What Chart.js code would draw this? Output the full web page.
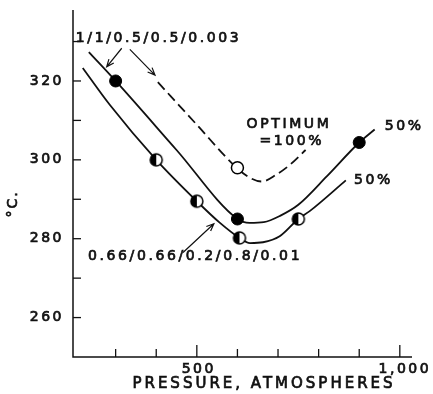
<!DOCTYPE html>
<html>
<head>
<meta charset="utf-8">
<script src="https://cdn.jsdelivr.net/npm/chart.js@4.4.0/dist/chart.umd.min.js"></script>
<style>
  html, body { margin: 0; padding: 0; background: #fff; }
  #wrap { width: 433px; height: 394px; }
</style>
</head>
<body>
<div id="wrap"><canvas id="chart" width="433" height="394"></canvas></div>
<script>
// 1/1/0.5/0.5/0.003 feed, 50% of optimum
const upperP = [234, 300, 450, 600, 630, 665, 705, 750, 820, 900, 938];
const upperT = [327.3, 320, 302.5, 285, 284, 284.2, 285.8, 288.6, 295.8, 304.4, 307.7];
// same feed at optimum (dashed)
const optP = [404, 500, 598, 630, 660, 695, 730, 768];
const optT = [319.7, 308.9, 298, 295.5, 294.5, 296.2, 298.8, 302.5];
// 0.66/0.66/0.2/0.8/0.01 feed, 50%
const lowerP = [219, 286, 400, 500, 557, 605, 631, 663, 704, 750, 778, 867];
const lowerT = [323.3, 313.9, 300, 289.5, 284, 280.2, 278.9, 279.1, 280.6, 285, 287, 294.8];

// measured runs
const solidP = [300, 600, 900];
const solidT = [320, 285, 304.4];
const openP = [600];
const openT = [298];
const halfP = [400, 500, 605, 750];
const halfT = [300, 289.5, 280.2, 285];

const xTicks = [300, 400, 500, 600, 700, 800, 900, 1000];
const xLabels = { 500: '500', 1000: '1,000' };
const yTicks = [260, 270, 280, 290, 300, 310, 320, 330];
const yLabels = { 260: '260', 280: '280', 300: '300', 320: '320' };

const pts = (xs, ys) => xs.map((x, i) => ({ x, y: ys[i] }));

function halfDot(r) {
    const c = document.createElement('canvas');
    const s = 2 * r + 4;
    c.width = c.height = s;
    const g = c.getContext('2d');
    const m = s / 2;
    g.fillStyle = '#fff';
    g.beginPath(); g.arc(m, m, r, 0, Math.PI * 2); g.fill();
    g.fillStyle = '#000';
    g.beginPath(); g.arc(m, m, r, Math.PI / 2, Math.PI * 1.5); g.closePath(); g.fill();
    g.lineWidth = 1.5; g.strokeStyle = '#000';
    g.beginPath(); g.arc(m, m, r, 0, Math.PI * 2); g.stroke();
    return c;
}

const FONT = '"DejaVu Sans", sans-serif';

function text(ctx, str, x, y, align, size, ls) {
    ctx.font = `${size}px ${FONT}`;
    ctx.letterSpacing = ls + 'px';
    ctx.textAlign = align;
    ctx.textBaseline = 'middle';
    ctx.fillStyle = '#111';
    ctx.strokeStyle = '#111';
    ctx.lineWidth = 0.7;
    ctx.fillText(str, x, y);
    ctx.strokeText(str, x, y);
}

function arrow(ctx, x1, y1, x2, y2) {
    const a = Math.atan2(y2 - y1, x2 - x1);
    const h = 8;
    ctx.beginPath();
    ctx.moveTo(x1, y1);
    ctx.lineTo(x2, y2);
    ctx.moveTo(x2 - h * Math.cos(a - 0.4), y2 - h * Math.sin(a - 0.4));
    ctx.lineTo(x2, y2);
    ctx.lineTo(x2 - h * Math.cos(a + 0.4), y2 - h * Math.sin(a + 0.4));
    ctx.stroke();
}

// notes and arrows, anchored in pressure / temperature units
const notes = [
    { t: '1/1/0.5/0.5/0.003', p: 202, c: 330.9, align: 'left' },
    { t: 'OPTIMUM', p: 727, c: 308.9, align: 'center' },
    { t: '=100%', p: 734, c: 304.8, align: 'center' },
    { t: '50%', p: 963, c: 308.4, align: 'left' },
    { t: '50%', p: 887, c: 294.9, align: 'left' },
    { t: '0.66/0.66/0.2/0.8/0.01', p: 232, c: 275.4, align: 'left' }
];
const arrows = [
    [315, 328.3, 278, 323.6],
    [335, 328.0, 397, 321.5],
    [466, 276.5, 542, 283.8]
];

const paper = {
    id: 'paper',
    afterDraw(chart) {
        const { ctx, chartArea: a, scales: { x, y } } = chart;
        ctx.save();
        ctx.strokeStyle = '#111';
        ctx.lineWidth = 1.5;
        ctx.lineCap = 'butt';

        // axes
        ctx.beginPath();
        ctx.moveTo(a.left, a.top);
        ctx.lineTo(a.left, a.bottom);
        ctx.lineTo(a.right, a.bottom);
        ctx.stroke();

        // ticks, pointing inward
        yTicks.forEach(v => {
            const py = y.getPixelForValue(v);
            ctx.strokeStyle = '#111';
            ctx.lineWidth = 1.3;
            ctx.beginPath(); ctx.moveTo(a.left, py); ctx.lineTo(a.left + 8, py); ctx.stroke();
            if (yLabels[v]) text(ctx, yLabels[v], a.left - 9, py, 'right', 14, 2.5);
        });
        xTicks.forEach(v => {
            const px = x.getPixelForValue(v);
            const len = xLabels[v] ? 12 : 8;
            ctx.strokeStyle = '#111';
            ctx.lineWidth = 1.3;
            ctx.beginPath(); ctx.moveTo(px, a.bottom); ctx.lineTo(px, a.bottom - len); ctx.stroke();
            if (xLabels[v]) text(ctx, xLabels[v], px + (v === 1000 ? 5 : 2), a.bottom + 12, 'center', 14, 2.5);
        });

        // axis titles
        text(ctx, 'PRESSURE, ATMOSPHERES', 264, a.bottom + 27, 'center', 15, 3);
        ctx.save();
        ctx.translate(13, 204);
        ctx.rotate(-Math.PI / 2);
        text(ctx, '\u00b0C.', 0, 0, 'center', 14, 2);
        ctx.restore();

        notes.forEach(n => {
            text(ctx, n.t, x.getPixelForValue(n.p), y.getPixelForValue(n.c), n.align, 14, 2.6);
        });

        ctx.strokeStyle = '#111';
        ctx.lineWidth = 1.2;
        arrows.forEach(([p1, c1, p2, c2]) => {
            arrow(ctx, x.getPixelForValue(p1), y.getPixelForValue(c1),
                x.getPixelForValue(p2), y.getPixelForValue(c2));
        });
        ctx.restore();
    }
};

const curve = (data, dash) => ({
    data,
    showLine: true,
    borderColor: '#111',
    borderWidth: 1.8,
    borderDash: dash,
    pointRadius: 0,
    cubicInterpolationMode: 'monotone',
    order: 2
});

new Chart(document.getElementById('chart'), {
    type: 'scatter',
    data: {
        datasets: [
            curve(pts(upperP, upperT), []),
            curve(pts(optP, optT), [10, 5]),
            curve(pts(lowerP, lowerT), []),
            {
                data: pts(solidP, solidT),
                pointRadius: 6,
                pointStyle: 'circle',
                backgroundColor: '#000',
                borderColor: '#000',
                borderWidth: 1,
                order: 0
            },
            {
                data: pts(openP, openT),
                pointRadius: 6,
                pointStyle: 'circle',
                backgroundColor: '#fff',
                borderColor: '#000',
                borderWidth: 1.5,
                order: 0
            },
            {
                data: pts(halfP, halfT),
                pointStyle: halfDot(6),
                pointRadius: 6,
                order: 0
            }
        ]
    },
    options: {
        responsive: false,
        animation: false,
        layout: { padding: { left: 73, right: 21, top: 10, bottom: 37 } },
        plugins: { legend: { display: false }, tooltip: { enabled: false } },
        scales: {
            x: { type: 'linear', min: 195, max: 1030, display: false },
            y: { type: 'linear', min: 250, max: 338, display: false }
        }
    },
    plugins: [paper]
});
</script>
</body>
</html>
